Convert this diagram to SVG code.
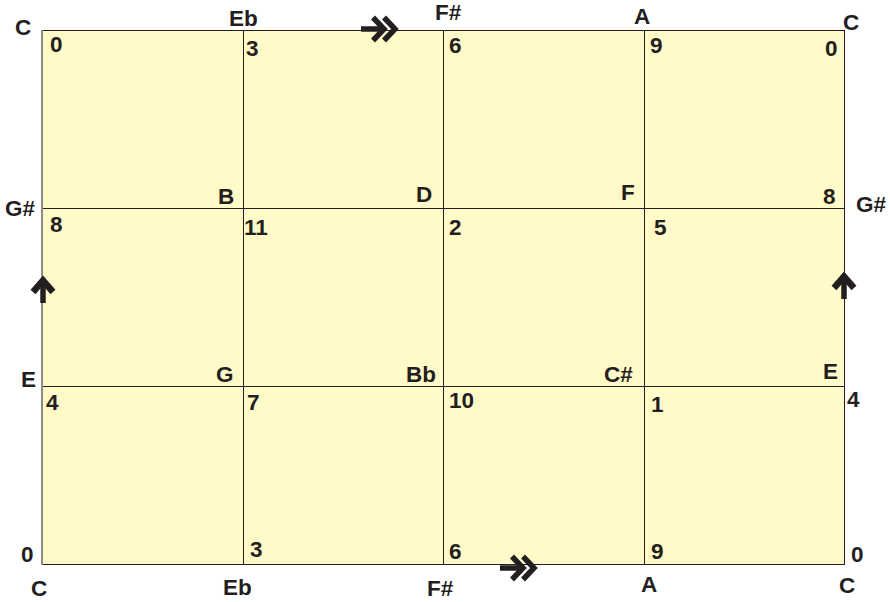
<svg xmlns="http://www.w3.org/2000/svg" width="890" height="602" viewBox="0 0 890 602">
<style>
text{font-family:"Liberation Sans",Arial,sans-serif;font-weight:bold;font-size:22.5px;fill:#231f20}
.grid{stroke:#231f20;stroke-width:1;fill:none}
.arw{stroke:#231f20;fill:none;stroke-linejoin:miter;stroke-miterlimit:10}
</style>
<defs>
<g id="dbl">
<path class="arw" d="M0,0H23" stroke-width="5.5"/>
<path class="arw" d="M12,-11.5L23,0L12,11.5" stroke-width="5.5"/>
<path class="arw" d="M23,-11.5L34,0L23,11.5" stroke-width="5.5"/>
</g>
<g id="up">
<path class="arw" d="M0,0V-22" stroke-width="5.5"/>
<path class="arw" d="M-10,-11L0,-22.5L10,-11" stroke-width="6.5"/>
</g>
</defs>
<g id="board">
<rect x="42" y="30" width="802" height="535" fill="#fffac8"/>
<path class="grid" d="M42,30.5H844M42,208.5H844M42,386.5H844M42,564.5H844M243.5,30V565M443.5,30V565M644.5,30V565M844.5,30V565"/>
<path d="M42,30V565" stroke="#8c8c8c" stroke-width="2"/>
</g>
<g id="labels">
<text x="15" y="35">C</text>
<text x="229" y="26">Eb</text>
<text x="435" y="20">F#</text>
<text x="634" y="24">A</text>
<text x="843" y="30">C</text>
<text x="50" y="52">0</text>
<text x="246" y="56">3</text>
<text x="449" y="53">6</text>
<text x="650" y="53">9</text>
<text x="825" y="56">0</text>
<text x="218" y="204">B</text>
<text x="416" y="202">D</text>
<text x="621" y="200">F</text>
<text x="823" y="204">8</text>
<text x="5" y="216">G#</text>
<text x="856" y="212">G#</text>
<text x="50" y="232">8</text>
<text x="244" y="235">11</text>
<text x="449" y="235">2</text>
<text x="654" y="235">5</text>
<text x="21" y="387">E</text>
<text x="216" y="382">G</text>
<text x="406" y="382">Bb</text>
<text x="604" y="382">C#</text>
<text x="823" y="379">E</text>
<text x="46" y="410">4</text>
<text x="247" y="410">7</text>
<text x="449" y="408">10</text>
<text x="651" y="412">1</text>
<text x="847" y="407">4</text>
<text x="21" y="562">0</text>
<text x="250" y="557">3</text>
<text x="449" y="559">6</text>
<text x="651" y="559">9</text>
<text x="851" y="562">0</text>
<text x="31" y="596">C</text>
<text x="223" y="595">Eb</text>
<text x="427" y="596">F#</text>
<text x="641" y="592">A</text>
<text x="839" y="593">C</text>
</g>
<g id="connectors">
<use href="#dbl" x="361" y="29"/>
<use href="#dbl" x="500" y="568"/>
<use href="#up" x="43" y="303"/>
<use href="#up" x="844" y="299"/>
</g>
</svg>
